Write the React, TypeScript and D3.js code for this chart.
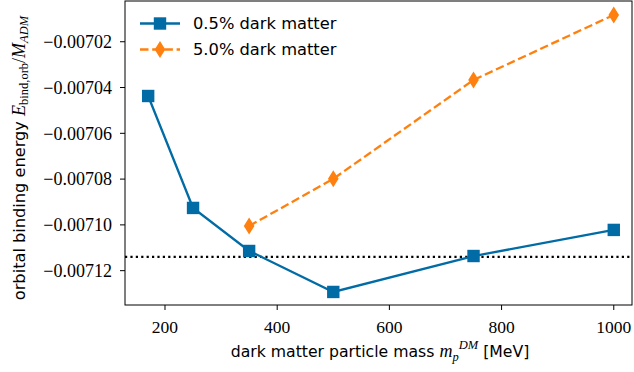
import React from "react";
import * as d3 from "d3";

const massesLow = [170, 250, 350, 500, 750, 1000];
const energyLow = [-0.0070437, -0.0070926, -0.0071114, -0.0071293, -0.0071136, -0.0071022];
const massesHigh = [350, 500, 750, 1000];
const energyHigh = [-0.0071005, -0.0070799, -0.0070367, -0.0070083];
const referenceEnergy = -0.007114;
const xTicks = [200, 400, 600, 800, 1000];
const yTicks = [-0.00702, -0.00704, -0.00706, -0.00708, -0.0071, -0.00712];

const W = 634, H = 372;
const left = 125, right = 632, top = 1, bottom = 305;
const blue = "#006BA4", orange = "#FF800E";

export default function App() {
  const x = d3.scaleLinear().domain([128.7, 1032.5]).range([left, right]);
  const y = d3.scaleLinear().domain([-0.007135, -0.0070022]).range([bottom, top]);
  const line = d3.line<[number, number]>().x(d => x(d[0])).y(d => y(d[1]));
  const lowPts = massesLow.map((m, i) => [m, energyLow[i]] as [number, number]);
  const highPts = massesHigh.map((m, i) => [m, energyHigh[i]] as [number, number]);
  const tickFont = "'Liberation Serif', 'DejaVu Serif', serif";
  const sans = "'DejaVu Sans', sans-serif";
  const diamond = (cx: number, cy: number) =>
    `M${cx},${cy - 8.5}L${cx + 5.3},${cy}L${cx},${cy + 8.5}L${cx - 5.3},${cy}Z`;
  const fmt = (v: number) => "\u2212" + Math.abs(v).toFixed(5);
  const lw = 2.3;
  const dash = "8.5,3.7";
  return (
    <svg width={W} height={H} style={{ position: "absolute", left: 0, top: 0, background: "#fff" }}>
      <defs>
        <clipPath id="plot"><rect x={left} y={top} width={right - left} height={bottom - top} /></clipPath>
      </defs>
      <g clipPath="url(#plot)">
        <line x1={left} x2={right} y1={y(referenceEnergy)} y2={y(referenceEnergy)} stroke="#000" strokeWidth={2.2} strokeDasharray="2.2,3.2" />
        <path d={line(lowPts) || ""} fill="none" stroke={blue} strokeWidth={lw} />
        <path d={line(highPts) || ""} fill="none" stroke={orange} strokeWidth={lw} strokeDasharray={dash} />
        {lowPts.map((p, i) => (
          <rect key={i} x={x(p[0]) - 6.2} y={y(p[1]) - 6.2} width={12.4} height={12.4} fill={blue} />
        ))}
        {highPts.map((p, i) => (
          <path key={i} d={diamond(x(p[0]), y(p[1]))} fill={orange} />
        ))}
      </g>
      <rect x={left} y={top} width={right - left} height={bottom - top} fill="none" stroke="#000" strokeWidth={1} />
      {xTicks.map(t => (
        <g key={t}>
          <line x1={x(t)} x2={x(t)} y1={bottom} y2={bottom + 5} stroke="#000" />
          <text x={x(t)} y={333} textAnchor="middle" fontFamily={tickFont} fontSize={17.5}>{t}</text>
        </g>
      ))}
      {yTicks.map(t => (
        <g key={t}>
          <line x1={left - 5} x2={left} y1={y(t)} y2={y(t)} stroke="#000" />
          <text x={left - 13} y={y(t) + 6.3} textAnchor="end" fontFamily={tickFont} fontSize={18}>{fmt(t)}</text>
        </g>
      ))}
      <text x={380} y={357} textAnchor="middle" fontFamily={sans} fontSize={15.7}>
        dark matter particle mass{" "}
        <tspan fontFamily={tickFont} fontStyle="italic" fontSize={18}>m</tspan>
        <tspan fontFamily={tickFont} fontStyle="italic" fontSize={12.5} dy={4}>p</tspan>
        <tspan fontFamily={tickFont} fontStyle="italic" fontSize={12.5} dy={-12}>DM</tspan>
        <tspan dy={8}>{"  [MeV]"}</tspan>
      </text>
      <text transform="translate(25,158) rotate(-90)" textAnchor="middle" fontFamily={sans} fontSize={16.2}>
        orbital binding energy{" "}
        <tspan fontFamily={tickFont} fontStyle="italic" fontSize={18}>E</tspan>
        <tspan fontFamily={tickFont} fontSize={12.5} dy={3}>bind,orb</tspan>
        <tspan fontFamily={tickFont} fontSize={18} dy={-3}>/</tspan>
        <tspan fontFamily={tickFont} fontStyle="italic" fontSize={18}>M</tspan>
        <tspan fontFamily={tickFont} fontStyle="italic" fontSize={12.5} dy={3}>ADM</tspan>
      </text>
      <g>
        <line x1={140} x2={180} y1={23.5} y2={23.5} stroke={blue} strokeWidth={lw} />
        <rect x={153.8} y={17.3} width={12.4} height={12.4} fill={blue} />
        <text x={193} y={29} fontFamily={sans} fontSize={16.3}>0.5% dark matter</text>
        <line x1={140} x2={180} y1={49.5} y2={49.5} stroke={orange} strokeWidth={lw} strokeDasharray={dash} />
        <path d={diamond(160, 49.5)} fill={orange} />
        <text x={193} y={55} fontFamily={sans} fontSize={16.3}>5.0% dark matter</text>
      </g>
    </svg>
  );
}
